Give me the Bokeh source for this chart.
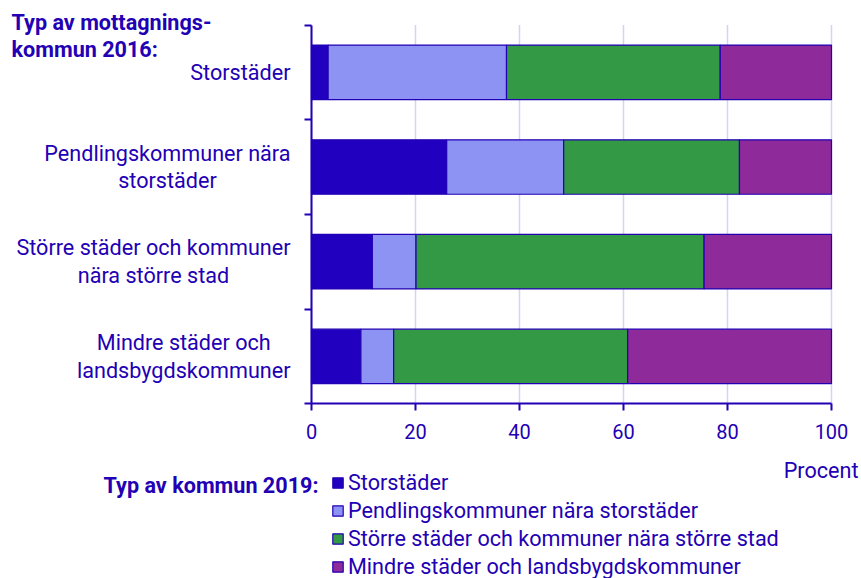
from bokeh.plotting import figure
from bokeh.models import (Range1d, FixedTicker, Label, ColumnDataSource, Legend, LegendItem,
                          LinearAxis)
from bokeh.core.properties import value
from bokeh.embed import file_html
from bokeh.resources import INLINE

# ---- data ----
categories = [
    "Storstäder",
    "Pendlingskommuner nära\nstorstäder",
    "Större städer och kommuner\nnära större stad",
    "Mindre städer och\nlandsbygdskommuner",
]
series_names = [
    "Storstäder",
    "Pendlingskommuner nära storstäder",
    "Större städer och kommuner nära större stad",
    "Mindre städer och landsbygdskommuner",
]
storstader = [3.2, 26.0, 11.7, 9.5]
pendling = [34.3, 22.5, 8.4, 6.3]
storre = [41.1, 33.8, 55.4, 45.0]
mindre = [21.4, 17.7, 24.5, 39.2]
x_ticks = [0, 20, 40, 60, 80, 100]

title_text = "Typ av mottagnings-\nkommun 2016:"
legend_title = "Typ av kommun 2019:"
x_label = "Procent"

# ---- styles / layout ----
TEXT = "#2200b4"
AXIS = "#2200b4"
COLORS = ["#2200c0", "#8c93f2", "#339944", "#8e2a9a"]
GRID = "#d4d4f2"
FONT = "Roboto"
FS = "21.6px"
W, H = 861, 578
X0_PX, X100_PX = 311.0, 831.0      # pixel of x=0 and x=100
YTOP_PX, YBOT_PX = 24.5, 403.2     # pixel of first / last category boundary

n = len(categories)
sx = (X100_PX - X0_PX) / 100.0
sy = (YBOT_PX - YTOP_PX) / n


def dx(px):
    return (px - X0_PX) / sx


def dy(py):
    return (py - YTOP_PX) / sy


pos = [i + 0.5 for i in range(n)]
keys = ["s0", "s1", "s2", "s3"]
src = ColumnDataSource(dict(y=pos, s0=storstader, s1=pendling, s2=storre, s3=mindre))

p = figure(width=W, height=H,
           x_range=Range1d(dx(0), dx(W)), y_range=Range1d(dy(H), dy(0)),
           x_axis_location=None, y_axis_location=None,
           output_backend="svg", toolbar_location=None,
           min_border_left=0, min_border_right=0, min_border_top=0, min_border_bottom=0)
p.outline_line_color = None
p.background_fill_color = "white"
p.border_fill_color = "white"
p.grid.visible = False

# vertical grid lines (from the tick list)
p.segment(x0=x_ticks, y0=[0] * len(x_ticks), x1=x_ticks, y1=[n] * len(x_ticks),
          line_color=GRID, line_width=1.5)

renderers = p.hbar_stack(keys, y="y", height=0.575, color=COLORS, line_color=AXIS,
                         line_width=1.2, source=src)

# x axis
xax = LinearAxis(fixed_location=n, bounds=(0, 100), ticker=FixedTicker(ticks=x_ticks))
xax.axis_line_color = AXIS
xax.axis_line_width = 2
xax.major_tick_line_color = AXIS
xax.major_tick_line_width = 2
xax.major_tick_out = 7
xax.major_tick_in = 0
xax.minor_tick_line_color = None
xax.major_label_standoff = 13
xax.major_label_text_font = FONT
xax.major_label_text_font_size = "20px"
xax.major_label_text_color = TEXT
p.add_layout(xax, "below")

# y axis (ticks between categories)
yax = LinearAxis(fixed_location=0, bounds=(0, n),
                 ticker=FixedTicker(ticks=[], minor_ticks=list(range(n + 1))))
yax.axis_line_color = AXIS
yax.axis_line_width = 2
yax.major_tick_line_color = None
yax.major_label_text_font_size = "0px"
yax.minor_tick_out = 7
yax.minor_tick_in = 0
yax.minor_tick_line_color = AXIS
yax.minor_tick_line_width = 2
p.add_layout(yax, "left")

# category labels, block right-aligned, lines centred
p.text(x=[dx(290)] * n, y=pos, text=categories, anchor=value("center_right"),
       text_align="center", text_baseline="middle", text_font=value(FONT),
       text_font_size=FS, text_color=TEXT, text_line_height=1.1)

legend = Legend(items=[LegendItem(label=nm, renderers=[r]) for nm, r in zip(series_names, renderers)],
                location=(331, -1), orientation="vertical",
                padding=0, margin=0, spacing=3, label_height=21, glyph_height=13, glyph_width=13,
                label_standoff=4, border_line_color=None, background_fill_alpha=0,
                label_text_font=FONT, label_text_font_size=FS, label_text_color=TEXT)
p.add_layout(legend, "center")

p.add_layout(Label(x=dx(11), y=dy(35.4), text=title_text, text_font=FONT, text_font_style="bold",
                   text_font_size=FS, text_color=TEXT, text_align="left", text_baseline="middle",
                   text_line_height=1.1))
p.add_layout(Label(x=dx(318), y=dy(485), text=legend_title, text_font=FONT, text_font_style="bold",
                   text_font_size=FS, text_color=TEXT, text_align="right", text_baseline="middle"))
p.add_layout(Label(x=dx(858), y=dy(470), text=x_label, text_font=FONT,
                   text_font_size=FS, text_color=TEXT, text_align="right", text_baseline="middle"))

open("out.html", "w").write(file_html(p, INLINE))
